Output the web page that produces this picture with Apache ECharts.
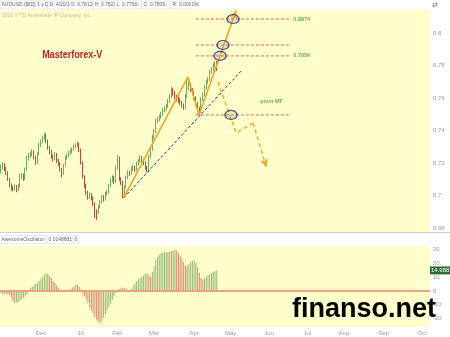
<!DOCTYPE html>
<html><head><meta charset="utf-8">
<script src="https://cdn.jsdelivr.net/npm/echarts@6/dist/echarts.min.js"></script>
<style>html,body{margin:0;padding:0;background:#fff}#c{width:450px;height:337px}</style>
</head><body><div id="c"></div>
<script>
// ---------- data ----------
const firstDay = '2015-10-29';
const dayCount = 247;
const monthKeys = ['2015-12','2016-01','2016-02','2016-03','2016-04','2016-05','2016-06','2016-07','2016-08','2016-09','2016-10'];
const monthLabels = ['Dec','16','Feb','Mar','Apr','May','Jun','Jul','Aug','Sep','Oct'];
const priceTicks = [0.68, 0.7, 0.72, 0.74, 0.76, 0.78, 0.8];
const aoTicks = [-20, -10, 0, 10, 20, 30];
const priceMin = 0.67754, priceMax = 0.81415;
const aoMin = -26.3, aoMax = 32.8;
// [open, close, low, high]
const ohlc = [
[0.7150,0.7170,0.7135,0.7190],[0.7170,0.7190,0.7160,0.7205],[0.7190,0.7165,0.7150,0.7200],[0.7165,0.7140,0.7125,0.7175],
[0.7140,0.7100,0.7090,0.7150],[0.7100,0.7065,0.7050,0.7110],[0.7065,0.7045,0.7030,0.7075],[0.7045,0.7040,0.7025,0.7060],
[0.7040,0.7055,0.7030,0.7070],[0.7055,0.7035,0.7020,0.7065],[0.7035,0.7060,0.7028,0.7072],[0.7060,0.7120,0.7050,0.7135],
[0.7120,0.7125,0.7100,0.7140],[0.7125,0.7105,0.7090,0.7135],[0.7105,0.7160,0.7095,0.7172],[0.7160,0.7230,0.7150,0.7245],
[0.7230,0.7245,0.7215,0.7262],[0.7245,0.7255,0.7232,0.7270],[0.7255,0.7268,0.7240,0.7285],[0.7268,0.7235,0.7222,0.7278],
[0.7235,0.7200,0.7188,0.7245],[0.7200,0.7255,0.7195,0.7266],[0.7255,0.7310,0.7248,0.7322],[0.7310,0.7330,0.7298,0.7345],
[0.7330,0.7355,0.7320,0.7368],[0.7355,0.7375,0.7340,0.7388],[0.7375,0.7335,0.7322,0.7382],[0.7335,0.7295,0.7282,0.7345],
[0.7295,0.7270,0.7255,0.7305],[0.7270,0.7240,0.7228,0.7282],[0.7240,0.7225,0.7210,0.7252],[0.7225,0.7255,0.7218,0.7268],
[0.7255,0.7215,0.7200,0.7262],[0.7215,0.7195,0.7182,0.7225],[0.7195,0.7160,0.7148,0.7205],[0.7160,0.7135,0.7112,0.7170],
[0.7135,0.7185,0.7128,0.7196],[0.7185,0.7230,0.7178,0.7242],[0.7230,0.7245,0.7220,0.7258],[0.7245,0.7262,0.7235,0.7275],
[0.7262,0.7270,0.7250,0.7284],[0.7270,0.7285,0.7260,0.7296],[0.7285,0.7300,0.7275,0.7314],[0.7300,0.7310,0.7290,0.7322],
[0.7310,0.7320,0.7298,0.7332],[0.7320,0.7280,0.7268,0.7326],[0.7280,0.7200,0.7190,0.7288],[0.7200,0.7115,0.7105,0.7210],
[0.7115,0.7060,0.7045,0.7125],[0.7060,0.7015,0.7002,0.7072],[0.7015,0.6990,0.6975,0.7030],[0.6990,0.7005,0.6980,0.7020],
[0.7005,0.6985,0.6970,0.7015],[0.6985,0.6950,0.6935,0.6995],[0.6950,0.6900,0.6860,0.6958],[0.6900,0.6895,0.6850,0.6915],
[0.6895,0.6930,0.6885,0.6942],[0.6930,0.6960,0.6920,0.6972],[0.6960,0.6990,0.6950,0.7004],[0.6990,0.6975,0.6962,0.7002],
[0.6975,0.7010,0.6968,0.7022],[0.7010,0.7020,0.6998,0.7034],[0.7020,0.7060,0.7012,0.7072],[0.7060,0.7095,0.7052,0.7108],
[0.7095,0.7110,0.7082,0.7125],[0.7110,0.7085,0.7070,0.7120],[0.7085,0.7170,0.7078,0.7182],[0.7170,0.7235,0.7160,0.7250],
[0.7235,0.7100,0.7088,0.7240],[0.7100,0.7080,0.7065,0.7112],[0.7080,0.7005,0.6985,0.7090],[0.7005,0.7050,0.6995,0.7062],
[0.7050,0.7110,0.7042,0.7122],[0.7110,0.7140,0.7100,0.7155],[0.7140,0.7135,0.7120,0.7152],[0.7135,0.7165,0.7128,0.7178],
[0.7165,0.7175,0.7152,0.7188],[0.7175,0.7160,0.7145,0.7185],[0.7160,0.7195,0.7152,0.7208],[0.7195,0.7210,0.7185,0.7224],
[0.7210,0.7235,0.7200,0.7248],[0.7235,0.7215,0.7202,0.7244],[0.7215,0.7200,0.7186,0.7228],[0.7200,0.7170,0.7158,0.7210],
[0.7170,0.7155,0.7142,0.7182],[0.7155,0.7240,0.7148,0.7252],[0.7240,0.7285,0.7230,0.7298],[0.7285,0.7360,0.7275,0.7372],
[0.7360,0.7395,0.7348,0.7408],[0.7395,0.7460,0.7385,0.7472],[0.7460,0.7470,0.7445,0.7485],[0.7470,0.7485,0.7458,0.7498],
[0.7485,0.7500,0.7472,0.7515],[0.7500,0.7525,0.7490,0.7538],[0.7525,0.7535,0.7512,0.7550],[0.7535,0.7550,0.7522,0.7564],
[0.7550,0.7580,0.7540,0.7594],[0.7580,0.7610,0.7570,0.7625],[0.7610,0.7650,0.7600,0.7668],[0.7650,0.7630,0.7615,0.7662],
[0.7630,0.7605,0.7592,0.7642],[0.7605,0.7595,0.7580,0.7618],[0.7595,0.7585,0.7570,0.7608],[0.7585,0.7570,0.7555,0.7598],
[0.7570,0.7555,0.7540,0.7582],[0.7555,0.7540,0.7528,0.7566],[0.7540,0.7610,0.7532,0.7622],[0.7610,0.7660,0.7600,0.7722],
[0.7660,0.7680,0.7645,0.7715],[0.7680,0.7650,0.7636,0.7692],[0.7650,0.7630,0.7615,0.7662],[0.7630,0.7600,0.7586,0.7642],
[0.7600,0.7565,0.7550,0.7610],[0.7565,0.7530,0.7515,0.7575],[0.7530,0.7515,0.7496,0.7545],[0.7515,0.7590,0.7508,0.7602],
[0.7590,0.7620,0.7580,0.7634],[0.7620,0.7665,0.7610,0.7678],[0.7665,0.7700,0.7652,0.7712],[0.7700,0.7715,0.7688,0.7728],
[0.7715,0.7760,0.7705,0.7772],[0.7760,0.7775,0.7748,0.7790],[0.7775,0.7800,0.7765,0.7815],[0.7800,0.7812,0.7788,0.7826],
[0.7812,0.7806,0.7766,0.7828]
];
const aoValues = [
-1.5,-2,-2.5,-2,-2.5,-3,-5,-7.5,-9,-8.5,-8,-7,-6,-5,-4,-2.5,-1,2,3,4,
5,6,7.5,9,10.5,12,13,12.5,11,9.5,7.5,6,4,2,0.8,0.3,-0.3,0.2,0.5,1,
1.5,2.5,3.5,5,4.5,3,1,-2,-4,-6.5,-9,-12,-14.5,-16.5,-19,-21,-22.5,-23.5,-22,-19.5,
-17,-14,-11.5,-9,-6.5,-4,-1.5,0.8,1.5,2.3,2.5,2,1.8,0.5,0.3,1.5,3.5,5.5,7,8.5,
9.5,10.5,11.5,12.5,13,11.5,10.5,14,18,22.5,25,26.5,27.5,28,28.3,28.5,28.4,28.8,29.2,29.5,
30,29.5,27.5,25.5,23.5,21,18.5,18,19.5,21,22,22.3,20.5,17.5,13.5,9.5,8.5,9.5,10.5,11.5,
12.2,13,14,14.5,14.9881
];
// annotations, as [bar index, price]
const orangeSolid = [[70.5,0.6985],[107.4,0.7729],[113.8,0.7496],[135.1,0.8138]];
const orangeDashed = [[124.7,0.7699],[135.1,0.7385],[144.9,0.7446],[152.4,0.7176]];
const trendLine = [[70.5,0.6985],[138,0.7766]];
const levelPrices = [0.8086, 0.7926, 0.7859, 0.7496];
const levelSpan = [112, 165.7];
const circlePoints = [[133.4,0.8086],[127.6,0.7926],[125.9,0.7859],[132.2,0.7496]];
const levelTexts = [['0.8874',[168,0.8086]],['0.7850',[168,0.7859]],['pivot MF',[149,0.7576]]];
const brandText = ['Masterforex-V',[23.7,0.7865]];
const headerItems = ['AUDUSD (BID) 1 y D','D: 4/20/16','O: 0.7812\u2191','H: 0.7828','L: 0.7766\u2193','C: 0.7806\u2193','R: 0.0061%'];
const aoHeaderItems = ['AwesomeOscillator','0.0148881','0'];

// ---------- build ----------
const days = [];
{
  const p = firstDay.split('-').map(Number);
  const d = new Date(Date.UTC(p[0], p[1]-1, p[2]));
  while (days.length < dayCount) {
    const wd = d.getUTCDay();
    if (wd !== 0 && wd !== 6) days.push(d.toISOString().slice(0,10));
    d.setUTCDate(d.getUTCDate()+1);
  }
}
const monthFirstIdx = {};
days.forEach((s, i) => { const k = s.slice(0,7); if (!(k in monthFirstIdx)) monthFirstIdx[k] = i; });
const labelIdx = {};
monthKeys.forEach((k, j) => { if (k in monthFirstIdx) labelIdx[monthFirstIdx[k]] = monthLabels[j]; });

const UP = '#72aa5e', DOWN = '#bb4e3e';
const AO_UP = '#94b872', AO_DOWN = '#da8a6e';
const aoData = aoValues.map((v, i) => ({
  value: v, itemStyle: {color: (i === 0 || v >= aoValues[i-1]) ? AO_UP : AO_DOWN}
}));
const FONT = '"Liberation Sans", Arial, sans-serif';
const near = (v, list, eps) => list.some(t => Math.abs(t - v) < eps);

function poly(points, style, arrow) {
  const body = arrow ? points.slice(0, -1) : points;
  const s = {type:'line', xAxisIndex:2, yAxisIndex:0, data: body, symbol:'none',
    lineStyle: style, silent:true, z:5, animation:false};
  if (arrow) s.markLine = {silent:true, symbol:['none','arrow'], symbolSize:[6,8],
    label:{show:false}, lineStyle: style, emphasis:{disabled:true},
    data:[[{coord: points[points.length-2]}, {coord: points[points.length-1]}]]};
  return s;
}
const series = [
  {type:'candlestick', xAxisIndex:0, yAxisIndex:0, data: ohlc, barWidth:1.2,
   itemStyle:{color:UP, color0:DOWN, borderColor:UP, borderColor0:DOWN, borderWidth:1}},
  {type:'bar', xAxisIndex:1, yAxisIndex:1, data: aoData, barWidth:1,
   markLine:{silent:true, symbol:['none','none'], animation:false,
     data:[ {yAxis:0, lineStyle:{color:'#eca27f', width:2, type:'solid'}, label:{show:false}} ]}},
  poly(trendLine, {color:'#33337a', width:1, type:[3,2]}, false)
];
levelPrices.forEach(p => series.push(poly([[levelSpan[0],p],[levelSpan[1],p]], {color:'#e2644e', width:1, type:[3,2]}, false)));
series.push(poly(orangeSolid, {color:'#f4a422', width:1.6, type:'solid'}, true));
series.push(poly(orangeDashed, {color:'#f4a422', width:1.4, type:[4,3]}, true));
series.push({type:'scatter', xAxisIndex:2, yAxisIndex:0, data: circlePoints, symbol:'circle', symbolSize:[12,9],
  itemStyle:{color:'rgba(160,160,160,0.3)', borderColor:'#2c2c6c', borderWidth:1.3}, silent:true, z:6});
series.push({type:'scatter', xAxisIndex:2, yAxisIndex:0, symbolSize:0, silent:true, z:7,
  data: levelTexts.map(t => ({value:t[1], label:{formatter:t[0]}})),
  label:{show:true, position:'right', distance:0, fontSize:5.5, fontWeight:'bold', color:'#4b9b2c', fontFamily:FONT}});

// header chrome
const graphic = [];
function boxRow(items, y, widths, x0) {
  let x = x0;
  items.forEach((t, i) => {
    const w = widths[i];
    graphic.push({type:'rect', shape:{x:x, y:y, width:w, height:8}, style:{fill:'#fff', stroke:'#d8d8d8', lineWidth:0.6}, silent:true});
    graphic.push({type:'text', x:x+1.5, y:y+4, style:{text:t, fill:'#666', font:'5px '+FONT, verticalAlign:'middle'}, silent:true});
    x += w + 1;
  });
}
graphic.push({type:'rect', shape:{x:0, y:232, width:450, height:14}, style:{fill:'#fff'}, silent:true});
graphic.push({type:'line', shape:{x1:0, y1:232.5, x2:450, y2:232.5}, style:{stroke:'#d0d0d0', lineWidth:1}, silent:true});
boxRow(headerItems, 1, [47,20,23,21,26,28,25], 0);
boxRow(aoHeaderItems, 235.5, [46,25,6], 0);
graphic.push({type:'text', x:2, y:16, style:{text:'2016 \u00a9 TD Ameritrade IP Company, Inc.', fill:'#b8b8b8', font:'5px '+FONT, verticalAlign:'middle'}, silent:true});
graphic.push({type:'text', x:432, y:5, style:{text:'\u21c4', fill:'#777', font:'7px "DejaVu Sans"', verticalAlign:'middle'}, silent:true});
graphic.push({type:'text', x:292, y:310, z:100, style:{text:'finanso.net', fill:'#000', font:'bold 27px "Liberation Sans"', verticalAlign:'middle'}, silent:true});

const axisText = {color:'#9a9a9a', fontSize:6, fontFamily:FONT};
const option = {
  animation:false,
  backgroundColor:'#fff',
  grid:[
    {left:0, right:20, top:10, height:222, show:true, backgroundColor:'#ffffcc', borderWidth:0},
    {left:0, right:20, top:246, height:81, show:true, backgroundColor:'#ffffcc', borderWidth:0}
  ],
  xAxis:[
    {type:'category', gridIndex:0, data:days, show:false},
    {type:'category', gridIndex:1, data:days, axisLine:{show:false}, axisTick:{show:false}, splitLine:{show:false},
     axisLabel:Object.assign({margin:3, interval:(i) => (i in labelIdx), formatter:(v, i) => labelIdx[i] || ''}, axisText)},
    {type:'value', gridIndex:0, min:-0.5, max:dayCount-0.5, show:false}
  ],
  yAxis:[
    {type:'value', gridIndex:0, position:'right', min:priceMin, max:priceMax, splitNumber:7,
     axisLine:{show:false}, axisTick:{show:false}, splitLine:{show:false},
     axisLabel:Object.assign({margin:3, showMinLabel:false, showMaxLabel:false,
       formatter: v => near(v, priceTicks, 1e-6) ? String(+v.toFixed(2)) : ''}, axisText)},
    {type:'value', gridIndex:1, position:'right', min:aoMin, max:aoMax, splitNumber:6,
     axisLine:{show:false}, axisTick:{show:false}, splitLine:{show:false},
     axisLabel:Object.assign({margin:3, showMinLabel:false, showMaxLabel:false,
       formatter: v => near(v, aoTicks, 1e-6) ? String(Math.round(v)) : ''}, axisText)}
  ],
  series: series,
  graphic: graphic
};
const chart = echarts.init(document.getElementById('c'), null, {renderer:'canvas'});
chart.setOption(option);

// labels positioned through the library's scales
const lastAO = aoValues[aoValues.length-1];
const aoPt = chart.convertToPixel({xAxisIndex:1, yAxisIndex:1}, [aoValues.length-1, lastAO]);
const brandPt = chart.convertToPixel({xAxisIndex:2, yAxisIndex:0}, brandText[1]);
graphic.push({type:'rect', shape:{x:430, y:aoPt[1]-4, width:20, height:8}, style:{fill:'#2f6e33'}, silent:true, z:50});
graphic.push({type:'text', x:431, y:aoPt[1], z:51, style:{text:lastAO.toFixed(4), fill:'#fff', font:'6px '+FONT, verticalAlign:'middle'}, silent:true});
graphic.push({type:'text', x:brandPt[0], y:brandPt[1], scaleX:0.82, z:20,
  style:{text:brandText[0], fill:'#c2201e', font:'bold 11px '+FONT, verticalAlign:'middle'}, silent:true});
chart.setOption({graphic: graphic});
</script>
</body></html>
